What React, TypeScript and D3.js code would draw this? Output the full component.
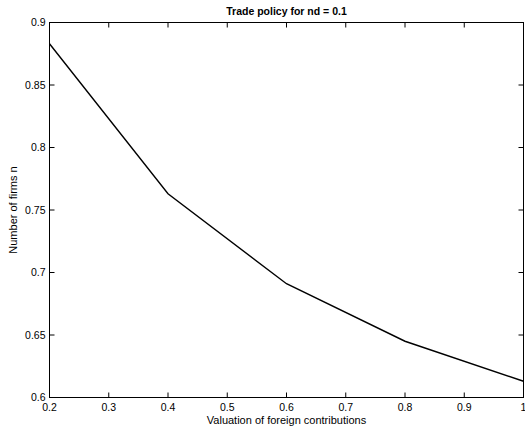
import React from "react";
import * as d3 from "d3";

const valuations = [0.2, 0.4, 0.6, 0.8, 1.0];
const firms = [0.883, 0.763, 0.691, 0.645, 0.613];
const xTicks = [0.2, 0.3, 0.4, 0.5, 0.6, 0.7, 0.8, 0.9, 1];
const yTicks = [0.6, 0.65, 0.7, 0.75, 0.8, 0.85, 0.9];

const W = 525;
const H = 432;
const left = 49.5;
const right = 523.5;
const top = 22.5;
const bottom = 397.5;
const font = "'Liberation Sans', Arial, Helvetica, sans-serif";

export default function App() {
  const x = d3.scaleLinear().domain([0.2, 1]).range([left, right]);
  const y = d3.scaleLinear().domain([0.6, 0.9]).range([bottom, top]);
  const line = d3
    .line<number>()
    .x((_, i) => x(valuations[i]))
    .y((d) => y(d));
  const tl = 5;

  return (
    <svg
      width={W}
      height={H}
      style={{ position: "absolute", left: 0, top: 0, background: "#fff" }}
      fontFamily={font}
    >
      <rect x={0} y={0} width={W} height={H} fill="#fff" />
      <rect
        x={left}
        y={top}
        width={right - left}
        height={bottom - top}
        fill="none"
        stroke="#000"
        strokeWidth={1}
      />
      {xTicks.map((t) => (
        <g key={"x" + t}>
          <line x1={x(t)} x2={x(t)} y1={bottom} y2={bottom - tl} stroke="#000" />
          <line x1={x(t)} x2={x(t)} y1={top} y2={top + tl} stroke="#000" />
          <text x={x(t)} y={bottom + 13} fontSize={10.5} textAnchor="middle" fill="#000">
            {String(t)}
          </text>
        </g>
      ))}
      {yTicks.map((t) => (
        <g key={"y" + t}>
          <line x1={left} x2={left + tl} y1={y(t)} y2={y(t)} stroke="#000" />
          <line x1={right} x2={right - tl} y1={y(t)} y2={y(t)} stroke="#000" />
          <text x={left - 4} y={y(t) + 3.5} fontSize={10.5} textAnchor="end" fill="#000">
            {String(t)}
          </text>
        </g>
      ))}
      <path d={line(firms) || ""} fill="none" stroke="#000" strokeWidth={1.4} />
      <text
        x={(left + right) / 2}
        y={15}
        fontSize={10.5}
        fontWeight="bold"
        textAnchor="middle"
        fill="#000"
      >
        Trade policy for nd = 0.1
      </text>
      <text x={(left + right) / 2} y={424} fontSize={11} textAnchor="middle" fill="#000">
        Valuation of foreign contributions
      </text>
      <text
        transform={`translate(17,${(top + bottom) / 2}) rotate(-90)`}
        fontSize={11}
        textAnchor="middle"
        fill="#000"
      >
        Number of firms n
      </text>
    </svg>
  );
}
